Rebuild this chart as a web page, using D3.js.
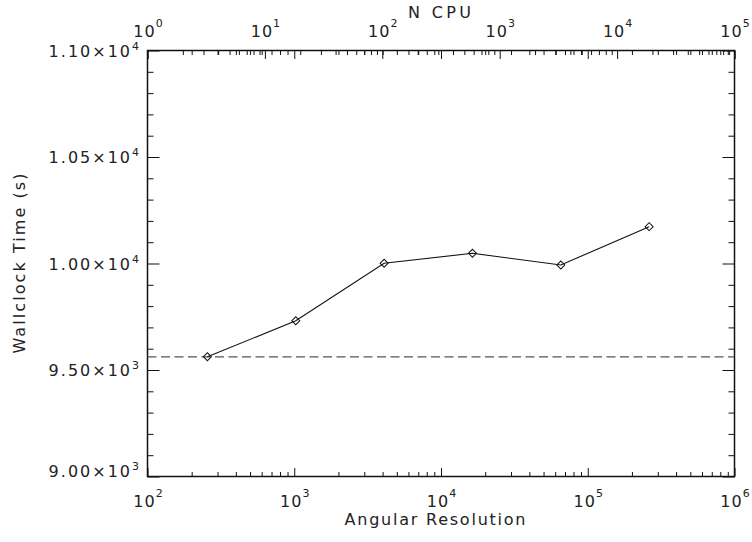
<!DOCTYPE html>
<html>
<head>
<meta charset="utf-8">
<script src="https://cdn.jsdelivr.net/npm/d3@7/dist/d3.min.js"></script>
<style>
  html, body { margin: 0; padding: 0; background: #fff; }
  svg { display: block; }
  text { font-family: "DejaVu Sans", "Liberation Sans", sans-serif; fill: #222; }
</style>
</head>
<body>
<script>
// ---- data ----
const angularResolution = [256, 1024, 4096, 16384, 65536, 262144];
const wallclockTime = [9562, 9731, 10001, 10048, 9993, 10173];
const referenceTime = 9562;

const xBottomDomain = [1e2, 1e6];
const xTopDomain = [1e0, 1e5];
const yDomain = [9000, 11000];

const yTickValues = [9000, 9500, 10000, 10500, 11000];
const yTickMantissa = ["9.00", "9.50", "1.00", "1.05", "1.10"];
const yTickExponent = ["3", "3", "4", "4", "4"];
const yMinorStep = 100;

const xTitle = "Angular Resolution";
const xTopTitle = "N CPU";
const yTitle = "Wallclock Time (s)";

// ---- layout ----
const W = 752, H = 542;
const L = 147.5, R = 734.5, T = 50.5, B = 476.5;

const svg = d3.select("body").append("svg").attr("width", W).attr("height", H);
svg.append("rect").attr("width", W).attr("height", H).attr("fill", "#fff");

const x = d3.scaleLog().domain(xBottomDomain).range([L, R]);
const xTop = d3.scaleLog().domain(xTopDomain).range([L, R]);
const y = d3.scaleLinear().domain(yDomain).range([B, T]);

function logTicks(domain) {
  const lo = Math.round(Math.log10(domain[0])), hi = Math.round(Math.log10(domain[1]));
  const major = [], minor = [];
  for (let d = lo; d <= hi; d++) {
    major.push(Math.pow(10, d));
    if (d < hi) for (let m = 2; m <= 9; m++) minor.push(m * Math.pow(10, d));
  }
  return {major, minor};
}
const bt = logTicks(xBottomDomain);
const tt = logTicks(xTopDomain);
const yMinor = d3.range(yDomain[0], yDomain[1] + 1, yMinorStep).filter(v => !yTickValues.includes(v));

function drawAxis(axis, tx, ty) {
  const g = svg.append("g").attr("transform", `translate(${tx},${ty})`).call(axis);
  g.select(".domain").remove();
  g.selectAll("text").remove();
  g.selectAll("line").attr("stroke", "#111").attr("stroke-width", 1);
  return g;
}

// bottom axis (ticks inward)
drawAxis(d3.axisBottom(x).tickValues(bt.major).tickSize(-8.5).tickFormat(""), 0, B);
drawAxis(d3.axisBottom(x).tickValues(bt.minor).tickSize(-4.5).tickFormat(""), 0, B);
// top: mirror of bottom axis plus top axis
drawAxis(d3.axisTop(x).tickValues(bt.major).tickSize(-8.5).tickFormat(""), 0, T);
drawAxis(d3.axisTop(x).tickValues(bt.minor).tickSize(-4.5).tickFormat(""), 0, T);
drawAxis(d3.axisTop(xTop).tickValues(tt.major).tickSize(-8.5).tickFormat(""), 0, T);
drawAxis(d3.axisTop(xTop).tickValues(tt.minor).tickSize(-4.5).tickFormat(""), 0, T);
// left and right
drawAxis(d3.axisLeft(y).tickValues(yTickValues).tickSize(-12).tickFormat(""), L, 0);
drawAxis(d3.axisLeft(y).tickValues(yMinor).tickSize(-6).tickFormat(""), L, 0);
drawAxis(d3.axisRight(y).tickValues(yTickValues).tickSize(-12).tickFormat(""), R, 0);
drawAxis(d3.axisRight(y).tickValues(yMinor).tickSize(-6).tickFormat(""), R, 0);

// frame
svg.append("rect").attr("x", L).attr("y", T).attr("width", R - L).attr("height", B - T)
  .attr("fill", "none").attr("stroke", "#111").attr("stroke-width", 1.5);

// power-of-ten labels
function powLabel(g, px, py, base, exp, anchor, raise, ls) {
  const t = g.append("text").attr("x", px).attr("y", py).attr("text-anchor", anchor)
    .style("font-size", "16px").style("letter-spacing", ls + "px");
  t.append("tspan").text(base);
  t.append("tspan").attr("dy", -raise).style("font-size", "11px").text(exp);
  return t;
}
const labels = svg.append("g");
bt.major.forEach(v => powLabel(labels, x(v) + 1, 507, "10", String(Math.round(Math.log10(v))), "middle", 10, 1));
tt.major.forEach(v => powLabel(labels, xTop(v) + 1, 36.5, "10", String(Math.round(Math.log10(v))), "middle", 10, 1));
yTickValues.forEach((v, i) => powLabel(labels, 141, Math.min(y(v) + 6, B), yTickMantissa[i] + "\u00d710", yTickExponent[i], "end", 7, 2));

// titles
svg.append("text").attr("x", 435).attr("y", 525).attr("text-anchor", "middle")
  .attr("textLength", 181).attr("lengthAdjust", "spacing").style("font-size", "16px").text(xTitle);
svg.append("text").attr("x", 439.5).attr("y", 18.3).attr("text-anchor", "middle")
  .attr("textLength", 63).attr("lengthAdjust", "spacing").style("font-size", "16px").text(xTopTitle);
svg.append("text").attr("transform", `translate(24.5,${(T + B) / 2}) rotate(-90)`).attr("text-anchor", "middle")
  .attr("textLength", 180).attr("lengthAdjust", "spacing").style("font-size", "16px").text(yTitle);

// reference dashed line
svg.append("line").attr("x1", L).attr("x2", R).attr("y1", y(referenceTime)).attr("y2", y(referenceTime))
  .attr("stroke", "#555").attr("stroke-width", 1.3).attr("stroke-dasharray", "9,4.5");

// data line
const pts = angularResolution.map((a, i) => [x(a), y(wallclockTime[i])]);
svg.append("path").attr("d", d3.line()(pts)).attr("fill", "none").attr("stroke", "#111").attr("stroke-width", 1.1);

// diamonds
const sym = d3.symbol().type(d3.symbolSquare).size(32);
svg.append("g").selectAll("path").data(pts).join("path")
  .attr("transform", d => `translate(${d[0]},${d[1]}) rotate(45)`)
  .attr("d", sym()).attr("fill", "none").attr("stroke", "#111").attr("stroke-width", 1);
</script>
</body>
</html>
